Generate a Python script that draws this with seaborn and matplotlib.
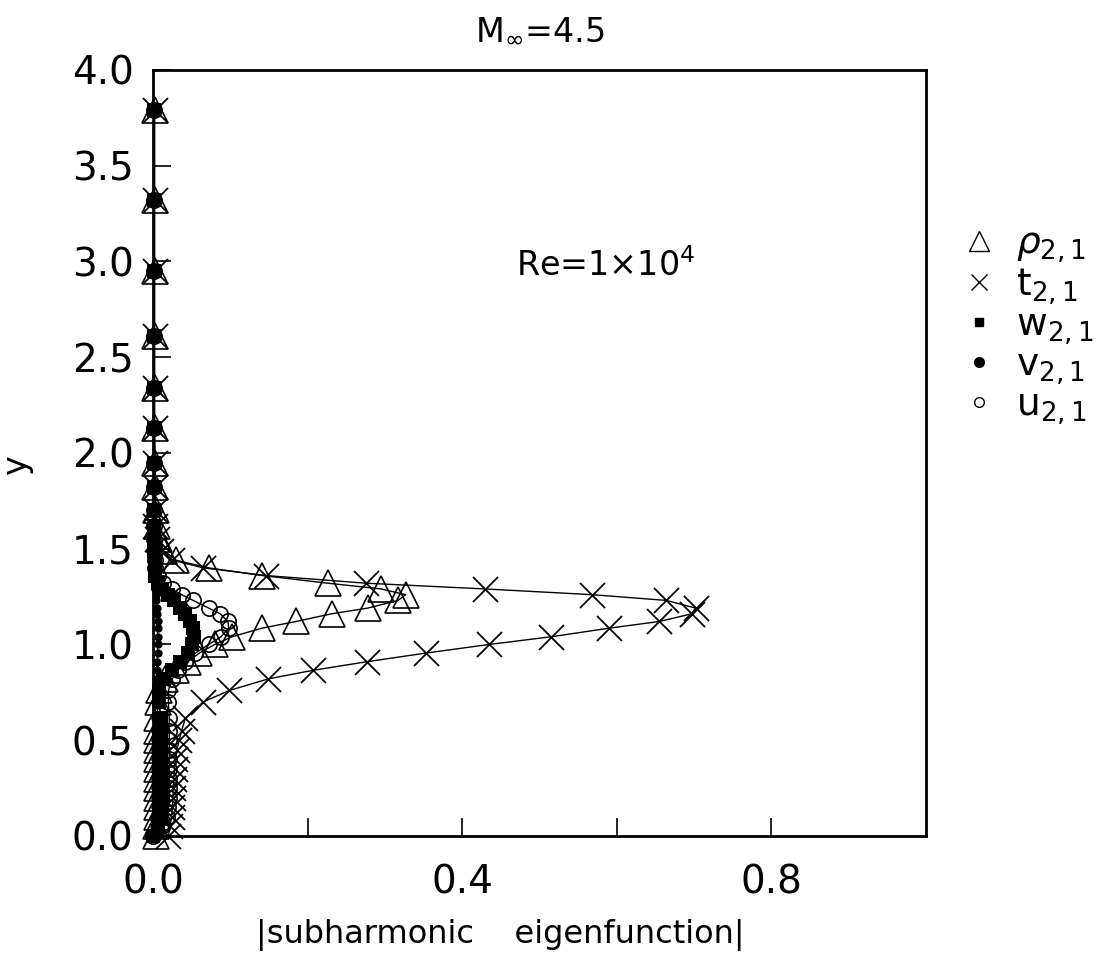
import seaborn as sns
import matplotlib.pyplot as plt
import pandas as pd
from matplotlib.lines import Line2D

# grid points in y (shared by all eigenfunctions)
y_grid = [0.00, 0.05, 0.10, 0.15, 0.20, 0.25, 0.30, 0.35, 0.40, 0.45, 0.50, 0.55,
          0.615, 0.70, 0.76, 0.82, 0.865, 0.91, 0.955,
          1.00, 1.04, 1.085, 1.12, 1.16, 1.19, 1.23, 1.26, 1.29, 1.32, 1.36, 1.40, 1.44, 1.49,
          1.55, 1.62, 1.70, 1.82, 1.95,
          2.13, 2.34, 2.61, 2.95, 3.32, 3.79]

rho = [0.004, 0.004, 0.005, 0.005, 0.005, 0.005, 0.005, 0.005, 0.005, 0.005, 0.005, 0.005,
       0.005, 0.006, 0.008, 0.015, 0.030, 0.045, 0.060,
       0.080, 0.102, 0.141, 0.185, 0.231, 0.278, 0.317, 0.327, 0.295, 0.226, 0.141, 0.072, 0.030, 0.014,
       0.008, 0.005, 0.004, 0.003, 0.003,
       0.002, 0.002, 0.002, 0.002, 0.002, 0.002]

t = [0.020, 0.022, 0.024, 0.025, 0.026, 0.026, 0.027, 0.028, 0.029, 0.031, 0.034, 0.037,
     0.042, 0.065, 0.099, 0.149, 0.207, 0.277, 0.353,
     0.435, 0.515, 0.590, 0.655, 0.697, 0.702, 0.664, 0.568, 0.429, 0.275, 0.146, 0.065, 0.025, 0.010,
     0.005, 0.003, 0.002, 0.002, 0.002,
     0.002, 0.002, 0.002, 0.002, 0.002, 0.002]

w = [0.000, 0.006, 0.010, 0.010, 0.010, 0.010, 0.010, 0.010, 0.010, 0.010, 0.010, 0.010,
     0.010, 0.008, 0.008, 0.014, 0.025, 0.035, 0.045,
     0.050, 0.053, 0.052, 0.048, 0.042, 0.035, 0.027, 0.020, 0.012, 0.006, 0.003, 0.002, 0.002, 0.001,
     0.001, 0.001, 0.001, 0.001, 0.001,
     0.001, 0.001, 0.001, 0.001, 0.001, 0.001]

v = [0.000, 0.001, 0.001, 0.002, 0.002, 0.002, 0.002, 0.002, 0.002, 0.003, 0.003, 0.003,
     0.003, 0.003, 0.004, 0.004, 0.005, 0.005, 0.006,
     0.006, 0.006, 0.006, 0.006, 0.005, 0.005, 0.004, 0.004, 0.003, 0.003, 0.002, 0.002, 0.002, 0.001,
     0.001, 0.001, 0.001, 0.001, 0.001,
     0.001, 0.001, 0.001, 0.001, 0.001, 0.001]

u = [0.000, 0.012, 0.018, 0.020, 0.021, 0.021, 0.021, 0.021, 0.021, 0.021, 0.021, 0.021,
     0.021, 0.020, 0.020, 0.025, 0.032, 0.042, 0.055,
     0.072, 0.088, 0.098, 0.097, 0.087, 0.072, 0.052, 0.037, 0.024, 0.013, 0.006, 0.003, 0.002, 0.002,
     0.001, 0.001, 0.001, 0.001, 0.001,
     0.001, 0.001, 0.001, 0.001, 0.001, 0.001]

labels = [r'$\rho_{2,1}$', r'$\mathregular{t_{2,1}}$', r'$\mathregular{w_{2,1}}$',
          r'$\mathregular{v_{2,1}}$', r'$\mathregular{u_{2,1}}$']

df = pd.DataFrame({"y": y_grid, "rho": rho, "t": t, "w": w, "v": v, "u": u})

sns.set_theme(style="ticks")
plt.rcParams['font.family'] = ['DejaVu Sans']
plt.rcParams['mathtext.fontset'] = 'dejavusans'
plt.rcParams['text.color'] = 'black'
plt.rcParams['axes.labelcolor'] = 'black'

fig = plt.figure(figsize=(11.19, 9.69), dpi=100)
ax = fig.add_axes([0.1367, 0.1373, 0.6908, 0.7905])

# marker styles per series
styles = {
    "rho": dict(marker='^', markersize=19, markerfacecolor='none', markeredgewidth=1.2),
    "t": dict(marker='x', markersize=18, markeredgewidth=1.3),
    "w": dict(marker='s', markersize=10, markerfacecolor='black', markeredgewidth=0),
    "v": dict(marker='o', markersize=6, markerfacecolor='black', markeredgewidth=0),
    "u": dict(marker='o', markersize=11, markerfacecolor='none', markeredgewidth=1.2),
}
for col in ["rho", "t", "w", "v", "u"]:
    sns.lineplot(x=col, y="y", data=df, ax=ax, sort=False, estimator=None,
                 color='black', linewidth=1.0, markeredgecolor='black',
                 clip_on=False, **styles[col])

ax.set_xlim(0, 1.0)
ax.set_ylim(0, 4.0)
ax.set_xticks([0.0, 0.4, 0.8])
ax.set_xticklabels(['0.0', '0.4', '0.8'])
ax.set_xticks([0.2, 0.6], minor=True)
ax.set_yticks([0.0, 0.5, 1.0, 1.5, 2.0, 2.5, 3.0, 3.5, 4.0])
ax.set_yticklabels(['0.0', '0.5', '1.0', '1.5', '2.0', '2.5', '3.0', '3.5', '4.0'])
ax.tick_params(which='both', direction='in', length=13, width=1.2, colors='black',
               labelsize=28)
ax.tick_params(axis='x', pad=20)
ax.tick_params(axis='y', pad=14)
for s in ax.spines.values():
    s.set_linewidth(2)
    s.set_color('black')

ax.set_xlabel('|subharmonic    eigenfunction|', fontsize=23)
ax.xaxis.set_label_coords(0.449, -0.108)
ax.set_ylabel('y', fontsize=24)
ax.yaxis.set_label_coords(-0.155, 0.484)

ax.text(0.585, 2.98, r'Re=1$\times$10$^4$', fontsize=24, ha='center', va='center')
fig.text(540 / 1119, 1 - 30 / 969, r'M$_\infty$=4.5', fontsize=24, ha='center', va='center')

handles = [
    Line2D([], [], ls='none', color='black', marker='^', markersize=14, markerfacecolor='none', markeredgewidth=1.0),
    Line2D([], [], ls='none', color='black', marker='x', markersize=11, markeredgewidth=1.0),
    Line2D([], [], ls='none', color='black', marker='s', markersize=6),
    Line2D([], [], ls='none', color='black', marker='o', markersize=7),
    Line2D([], [], ls='none', color='black', marker='o', markersize=7, markerfacecolor='none', markeredgewidth=1.0),
]
fig.legend(handles, labels, loc='upper left', bbox_to_anchor=(960 / 1119, 1 - 226 / 969),
           frameon=False, fontsize=27, handlelength=1.0, handletextpad=0.5,
           labelspacing=0.02, borderpad=0, borderaxespad=0)

plt.savefig('out.png', dpi=100)
plt.close()
